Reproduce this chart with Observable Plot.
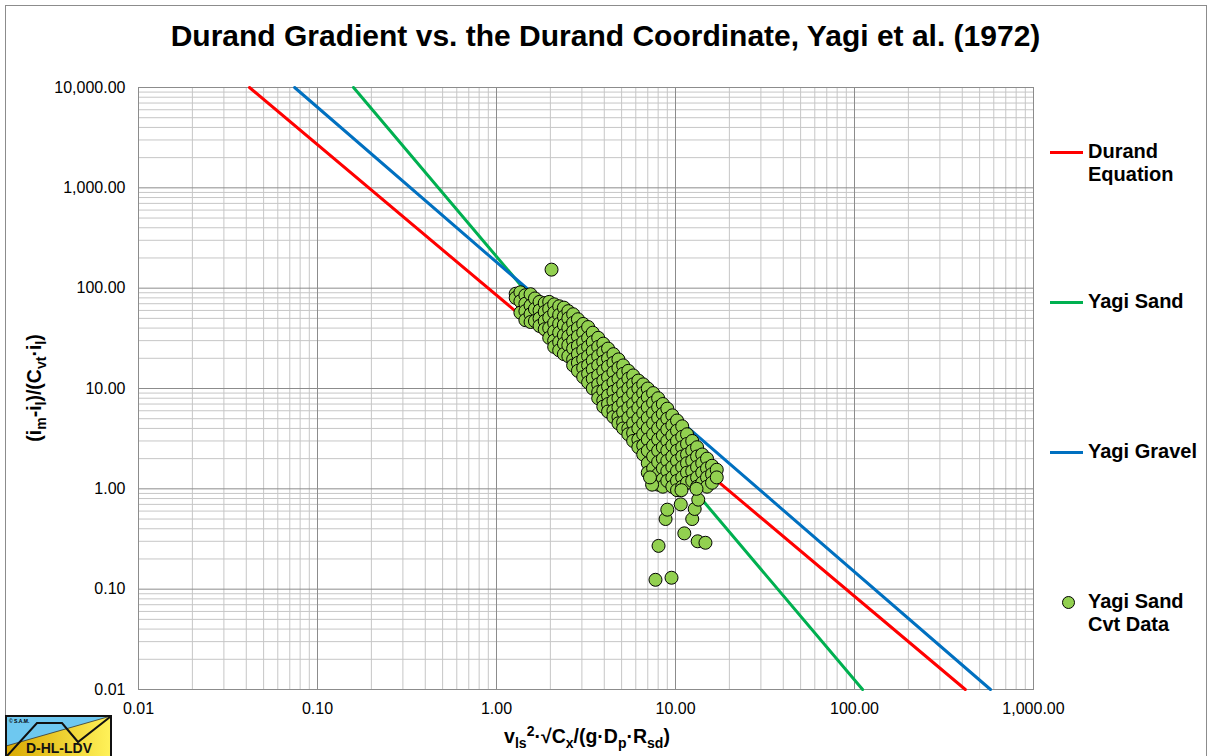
<!DOCTYPE html>
<html><head><meta charset="utf-8">
<script src="https://cdn.jsdelivr.net/npm/d3@7"></script>
<script src="https://cdn.jsdelivr.net/npm/@observablehq/plot@0.6"></script>
<style>
body{margin:0;background:#fff;font-family:"Liberation Sans",Arial,sans-serif;}
#wrap{position:relative;width:1211px;height:756px;overflow:hidden;background:#fff;}
#border{position:absolute;left:5px;top:5px;width:1200px;height:780px;border:1px solid #8c8c8c;}
#title{position:absolute;left:0;top:19px;width:1211px;text-align:center;font-weight:bold;font-size:30px;color:#000;}
#chart{position:absolute;left:0;top:0;}
.lab{position:absolute;font-weight:bold;font-size:19.5px;color:#000;white-space:nowrap;}
.lab sub,.lab sup{font-size:14px;}
#ylab{left:36px;top:388px;transform:translate(-50%,-50%) rotate(-90deg);}
#xlab{left:587px;top:737px;transform:translate(-50%,-50%);}
.leg{position:absolute;font-weight:bold;font-size:20px;line-height:23px;color:#000;}
.legline{position:absolute;width:33px;height:3px;}
#logo{position:absolute;left:5px;top:715px;}
</style></head>
<body>
<div id="wrap">
<div id="border"></div>
<div id="chart"></div>
<div id="title">Durand Gradient vs. the Durand Coordinate, Yagi et al. (1972)</div>
<div class="lab" id="ylab">(i<sub>m</sub>-i<sub>l</sub>)/(C<sub>vt</sub>·i<sub>l</sub>)</div>
<div class="lab" id="xlab">v<sub>ls</sub><sup>2</sup>·√C<sub>x</sub>/(g·D<sub>p</sub>·R<sub>sd</sub>)</div>
<div id="legend"></div>
<svg id="logo" width="108" height="42" viewBox="0 0 108 42">
<defs><linearGradient id="yg" x1="0" x2="1" y1="0" y2="0"><stop offset="0" stop-color="#d9a800"/><stop offset="1" stop-color="#fff25a"/></linearGradient></defs>
<rect x="1" y="1" width="105" height="44" fill="url(#yg)"/>
<polygon points="1,1 106,1 1,31" fill="#6ec8f0"/>
<line x1="1" y1="31" x2="106" y2="1" stroke="#333" stroke-width="0.8"/>
<polyline points="2,41 32,8 57,8 73,27 105,2" fill="none" stroke="#111" stroke-width="2"/>
<rect x="1" y="1" width="105" height="44" fill="none" stroke="#111" stroke-width="2"/>
<text x="4" y="8" font-size="5" font-weight="bold" font-family="Liberation Sans, Arial">© S.A.M.</text>
<text x="54" y="38" font-size="14" font-weight="bold" text-anchor="middle" font-family="Liberation Sans, Arial" fill="#111">D-HL-LDV</text>
</svg>
</div>
<script>
// ---- Data ----
const xTicks = [0.01, 0.1, 1, 10, 100, 1000];
const yTicks = [0.01, 0.1, 1, 10, 100, 1000, 10000];

// Model lines (end points, straight in log-log)
const durandLine = [[0.0417, 10000], [416, 0.01]];
const yagiSandLine = [[0.159, 10000], [111, 0.01]];
const yagiGravelLine = [[0.0745, 10000], [575, 0.01]];

// Yagi sand Cvt data, by column: [x, [y values]]
const cvtColumns = [
  [1.28, [88, 80]],
  [1.36, [91, 74, 57]],
  [1.45, [85, 70, 59, 48]],
  [1.55, [87, 67, 55, 46]],
  [1.64, [79, 62, 47]],
  [1.74, [73, 60, 50, 42]],
  [1.86, [71, 58, 47, 39]],
  [1.97, [73, 62, 51, 40, 32]],
  [2.03, [153]],
  [2.1, [69, 57, 45, 37, 30, 26]],
  [2.24, [66, 54, 44, 36, 29, 24]],
  [2.38, [64, 52, 43, 34, 28, 22]],
  [2.52, [59, 50, 40, 33, 27, 21]],
  [2.68, [55, 45, 37, 30, 25, 19.5, 17]],
  [2.85, [49, 40, 33, 26.5, 22, 18, 15]],
  [3.05, [44, 36, 29, 24, 19.5, 16, 13]],
  [3.25, [41, 32, 26, 21, 17, 14, 11.5]],
  [3.45, [36, 29, 23.5, 19, 15.5, 12.5, 10]],
  [3.7, [32, 26, 21, 17, 13.5, 11, 9.2, 8]],
  [3.95, [28, 23, 18.5, 15, 12, 9.5, 7.6, 6.6]],
  [4.2, [25, 20, 16.5, 13, 10.5, 8.5, 7, 5.9]],
  [4.5, [22, 18, 14.5, 11.5, 9.3, 7.5, 6, 5.2]],
  [4.8, [19.5, 16, 12.5, 10, 8, 6.5, 5.2, 4.5]],
  [5.1, [17, 14, 11, 9, 7.2, 5.8, 4.6, 4]],
  [5.45, [15, 12.5, 10, 8, 6.4, 5.1, 4, 3.5]],
  [5.8, [13.5, 11, 9, 7, 5.7, 4.5, 3.6, 3]],
  [6.2, [12, 10, 8, 6.4, 5, 4, 3.1, 2.6]],
  [6.6, [11, 9, 7.2, 5.7, 4.5, 3.5, 2.7, 2.2]],
  [7.0, [10, 8.2, 6.5, 5.1, 4, 3.1, 2.4, 1.8, 1.45]],
  [7.5, [9, 7.2, 5.7, 4.5, 3.5, 2.7, 2.1, 1.6, 1.2]],
  [8.0, [8, 6.5, 5.1, 4, 3.1, 2.4, 1.85, 1.4, 1.1]],
  [8.5, [7, 5.6, 4.4, 3.4, 2.6, 2, 1.6, 1.25, 1.05]],
  [9.0, [6.3, 5, 3.9, 3, 2.4, 1.9, 1.5, 1.2]],
  [9.6, [5.4, 4.3, 3.4, 2.7, 2.1, 1.65, 1.3, 1.05]],
  [10.2, [4.8, 3.8, 3, 2.4, 1.9, 1.5, 1.2, 0.97]],
  [10.9, [4.2, 3.3, 2.6, 2.1, 1.65, 1.3, 1.05]],
  [11.6, [3.5, 2.8, 2.2, 1.8, 1.45, 1.15]],
  [12.4, [3, 2.4, 1.9, 1.5, 1.2]],
  [13.2, [2.6, 2.1, 1.65, 1.3, 1.05]],
  [14.1, [2.2, 1.8, 1.45, 1.15]],
  [15, [2, 1.6, 1.3, 1.05]],
  [16, [1.7, 1.4, 1.15]],
  [17, [1.55, 1.3]]
];
const cvtOutliers = [
  [7.73, 0.124], [9.5, 0.13], [8.04, 0.27], [11.2, 0.36], [13.3, 0.30], [14.7, 0.29],
  [8.8, 0.5], [9.0, 0.62], [12.4, 0.5], [12.8, 0.63], [10.7, 0.7], [10.8, 0.97],
  [13.4, 0.78], [13.1, 1.0], [7.4, 1.1], [7.2, 1.3]
];

const legendItems = [
  {label: ["Durand", "Equation"], color: "#ff0000", top: 140, kind: "line"},
  {label: ["Yagi Sand"], color: "#00b050", top: 290, kind: "line"},
  {label: ["Yagi Gravel"], color: "#0070c0", top: 440, kind: "line"},
  {label: ["Yagi Sand", "Cvt Data"], color: "#92d050", top: 590, kind: "dot"}
];

// ---- Build ----
const cvt = cvtColumns.flatMap(([x, ys]) => ys.map(y => ({x, y}))).concat(cvtOutliers.map(([x, y]) => ({x, y})));
const toPts = arr => arr.map(([x, y]) => ({x, y}));
const fmt = d3.format(",.2f");
const minorX = [], minorY = [];
for (let e = -2; e < 3; e++) for (let m = 2; m <= 9; m++) minorX.push(m * Math.pow(10, e));
for (let e = -2; e < 4; e++) for (let m = 2; m <= 9; m++) minorY.push(m * Math.pow(10, e));

const chart = Plot.plot({
  width: 1211, height: 756,
  marginLeft: 138, marginRight: 178, marginTop: 87, marginBottom: 67,
  x: {type: "log", domain: [0.01, 1000], ticks: xTicks, tickFormat: fmt, tickSize: 0, tickPadding: 13, label: null},
  y: {type: "log", domain: [0.01, 10000], ticks: yTicks, tickFormat: fmt, tickSize: 0, tickPadding: 13, label: null},
  style: {fontFamily: "Liberation Sans, Arial, sans-serif", fontSize: "16px", color: "#000", background: "transparent"},
  marks: [
    Plot.ruleX(minorX, {stroke: "#c6c6c6", strokeWidth: 1}),
    Plot.ruleY(minorY, {stroke: "#c6c6c6", strokeWidth: 1}),
    Plot.ruleX(xTicks, {stroke: "#8c8c8c", strokeWidth: 1}),
    Plot.ruleY(yTicks, {stroke: "#8c8c8c", strokeWidth: 1}),
    Plot.frame({stroke: "#8c8c8c"}),
    Plot.line(toPts(yagiSandLine), {x: "x", y: "y", stroke: "#00b050", strokeWidth: 3}),
    Plot.line(toPts(yagiGravelLine), {x: "x", y: "y", stroke: "#0070c0", strokeWidth: 3}),
    Plot.line(toPts(durandLine), {x: "x", y: "y", stroke: "#ff0000", strokeWidth: 3}),
    Plot.dot(cvt, {x: "x", y: "y", r: 6.5, fill: "#92d050", stroke: "#000", strokeWidth: 1})
  ]
});
document.getElementById("chart").appendChild(chart);

const leg = document.getElementById("legend");
legendItems.forEach(it => {
  const t = document.createElement("div");
  t.className = "leg";
  t.style.left = "1088px";
  t.style.top = it.top + "px";
  t.innerHTML = it.label.join("<br>");
  leg.appendChild(t);
  const lineTop = it.top + 12;
  if (it.kind === "line") {
    const l = document.createElement("div");
    l.className = "legline";
    l.style.left = "1050px"; l.style.top = (lineTop - 1) + "px";
    l.style.background = it.color;
    leg.appendChild(l);
  } else {
    const c = document.createElement("div");
    c.style.cssText = `position:absolute;left:${1068-6}px;top:${lineTop-6}px;width:11px;height:11px;border-radius:50%;background:${it.color};border:1px solid #000;`;
    leg.appendChild(c);
  }
});
</script>
</body></html>
